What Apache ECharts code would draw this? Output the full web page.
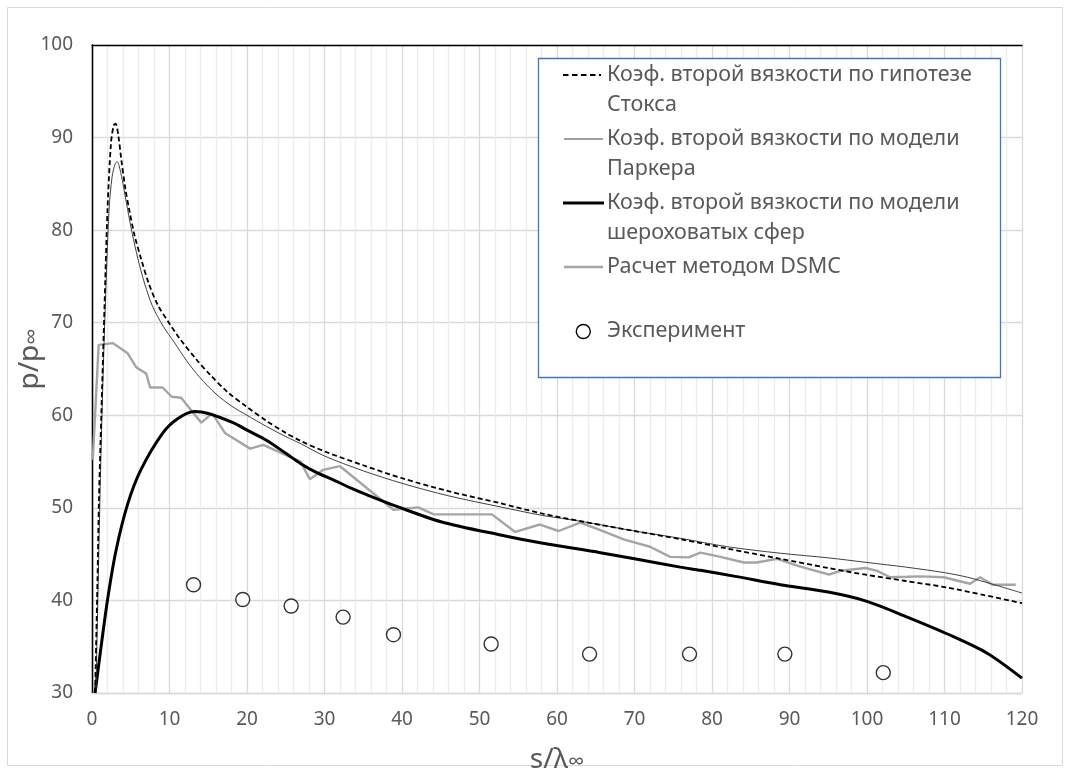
<!DOCTYPE html>
<html>
<head>
<meta charset="utf-8">
<script src="https://cdn.jsdelivr.net/npm/echarts@6/dist/echarts.min.js"></script>
<style>html,body{margin:0;padding:0;background:#fff}#c{width:1066px;height:773px}</style>
</head>
<body>
<div id="c"></div>
<script>
// ---- data (s/λ∞, p/p∞) ----
const seriesNames = [
  'Коэф. второй вязкости по гипотезе Стокса',
  'Коэф. второй вязкости по модели Паркера',
  'Коэф. второй вязкости по модели шероховатых сфер',
  'Расчет методом DSMC',
  'Эксперимент'
];
const xTicks = [0,10,20,30,40,50,60,70,80,90,100,110,120];
const yTicks = [30,40,50,60,70,80,90,100];

const stokesData = [[0.4,30],[0.7,42],[0.9,51],[1.2,60],[1.6,71.4],[2.0,82.2],[2.45,89.4],[2.8,91.3],[3.05,91.5],[3.4,90.2],[3.8,87.5],[4.3,84.5],[4.8,82.2],[5.5,79.4],[6.3,77.0],[7.3,74.3],[8.5,71.9],[10,69.9],[11.3,68.3],[13.5,66.0],[15.1,64.5],[17.5,62.5],[20,60.9],[22.5,59.4],[25,58.1],[27,57.2],[30,56.1],[35,54.6],[40,53.2],[46,51.8],[52.7,50.5],[58,49.4],[63.4,48.5],[70,47.5],[76,46.6],[82,45.6],[88.8,44.5],[95,43.5],[100,42.75],[105,42.1],[110.3,41.4],[115,40.6],[120,39.7]];

const parkerData = [[0.5,30],[0.8,42],[1.05,52],[1.35,62],[1.7,71.4],[2.2,82.2],[2.6,85.8],[3.0,87.2],[3.25,87.4],[3.6,86.6],[4.0,85.0],[4.6,82.2],[5.2,79.6],[5.9,77.0],[6.8,74.2],[7.8,71.8],[9.2,69.6],[10.6,67.9],[12.2,65.9],[13.9,64.1],[16,62.3],[18,61.0],[20,60.0],[22.5,58.8],[25,57.7],[27,56.9],[30,55.6],[35,54.0],[40,52.65],[46,51.3],[52.7,50.1],[58,49.2],[63.4,48.5],[70,47.5],[76,46.7],[82,45.8],[88.8,45.1],[95,44.6],[100,44.1],[105,43.6],[110,43.0],[113,42.5],[116,41.8],[120,40.8]];

const spheresData = [[0.4,30],[1.0,33.9],[2.0,40.05],[3.1,45.4],[4.6,50.4],[6.3,54.1],[9.1,58.05],[11,59.6],[13.2,60.4],[15,60.2],[18.2,59.2],[20,58.4],[22.5,57.3],[25,55.9],[26.9,54.8],[29,53.8],[31.2,53.0],[33.5,52.1],[35.5,51.4],[39.5,50.1],[45,48.5],[52.7,47.07],[58,46.2],[65.6,45.16],[70,44.5],[75.9,43.6],[78.5,43.25],[83,42.6],[88.8,41.7],[95,40.9],[100,39.9],[105.2,38.2],[110.3,36.4],[115.5,34.3],[120,31.6]];

const dsmcData = [[0.1,55.2],[0.86,67.6],[2.67,67.8],[4.6,66.7],[5.7,65.2],[7.0,64.5],[7.5,63.0],[9.1,63.0],[10.3,62.0],[11.5,61.9],[14.1,59.2],[15.5,60.2],[17.2,58.05],[20.4,56.4],[22.1,56.8],[26.9,55.0],[28.1,53.1],[29.8,54.1],[32.0,54.5],[38.9,49.8],[42.1,50.05],[44.1,49.3],[51.6,49.3],[54.6,47.4],[57.8,48.2],[60.2,47.5],[63.0,48.4],[65.6,47.6],[68.6,46.6],[72.0,45.8],[74.6,44.7],[77.0,44.65],[78.5,45.16],[81.1,44.7],[84.1,44.1],[85.8,44.1],[88.4,44.5],[91.4,43.65],[95.1,42.8],[96.6,43.2],[99.8,43.5],[101.3,43.2],[103.0,42.5],[105.2,42.55],[106.9,42.6],[109.9,42.5],[113.3,41.8],[114.6,42.5],[116.2,41.7],[119.2,41.7]];

const experimentData = [[13.1,41.7],[19.45,40.1],[25.7,39.4],[32.4,38.2],[38.9,36.3],[51.5,35.3],[64.2,34.2],[77.1,34.2],[89.4,34.2],[102.1,32.2]];

// ---- chart ----
const FONT = '"Noto Sans", "Open Sans", sans-serif';
const TXT = '#595959';
const chart = echarts.init(document.getElementById('c'), null, {renderer: 'canvas'});

const legendLines = [
  ['Коэф. второй вязкости по гипотезе', 75],
  ['Стокса', 105],
  ['Коэф. второй вязкости по модели', 139],
  ['Паркера', 169],
  ['Коэф. второй вязкости по модели', 203],
  ['шероховатых сфер', 233],
  ['Расчет методом DSMC', 267],
  ['Эксперимент', 331]
];

const graphics = [
  {type:'rect', shape:{x:7.5,y:7.5,width:1055,height:758}, style:{fill:'none', stroke:'#D9D9D9', lineWidth:1}, z:0, silent:true},
  {type:'rect', shape:{x:538.5,y:58.5,width:462,height:319}, style:{fill:'#fff', stroke:'#4472C4', lineWidth:1.3}, z:50},
  {type:'line', shape:{x1:563,y1:75,x2:601,y2:75}, style:{stroke:'#000', lineWidth:1.8, lineDash:[5.5,3.5]}, z:51},
  {type:'line', shape:{x1:564,y1:139,x2:603,y2:139}, style:{stroke:'#404040', lineWidth:1}, z:51},
  {type:'line', shape:{x1:563,y1:203,x2:604,y2:203}, style:{stroke:'#000', lineWidth:3}, z:51},
  {type:'line', shape:{x1:564,y1:267,x2:603,y2:267}, style:{stroke:'#A5A5A5', lineWidth:2.4}, z:51},
  {type:'circle', shape:{cx:583.3,cy:331.5,r:7}, style:{fill:'#fff', stroke:'#000', lineWidth:1.4}, z:51}
];
legendLines.forEach(function(l){
  graphics.push({type:'text', x:607, y:l[1], style:{text:l[0], fill:TXT, font:'21.5px ' + FONT, textVerticalAlign:'middle', textAlign:'left'}, z:52});
});

const nameRich = {sub:{fontSize:23, color:TXT, fontFamily:FONT, verticalAlign:'bottom', lineHeight:13}};

chart.setOption({
  backgroundColor:'#fff',
  animation:false,
  grid:{left:92, top:45, right:44, bottom:80, show:false, containLabel:false, outerBoundsMode:'none'},
  xAxis:[{
    type:'value', min:0, max:120, interval:10,
    name:'s/λ{sub|∞}', nameLocation:'middle', nameGap:53,
    nameTextStyle:{color:TXT, fontSize:28, fontFamily:FONT, rich:nameRich},
    axisLine:{show:true, lineStyle:{color:'#D9D9D9', width:1.3}},
    axisTick:{show:false},
    axisLabel:{color:TXT, fontSize:19, fontFamily:FONT, margin:17,
      formatter:function(v){return xTicks.indexOf(v) >= 0 ? String(v) : '';}},
    splitLine:{show:true, lineStyle:{color:'#D9D9D9', width:1.3}},
    minorTick:{show:false, splitNumber:5},
    minorSplitLine:{show:true, lineStyle:{color:'#ECECEC', width:1.3}}
  },{
    type:'value', min:0, max:120, position:'top',
    axisLine:{show:true, lineStyle:{color:'#000', width:1.3}},
    axisTick:{show:false}, axisLabel:{show:false}, splitLine:{show:false}
  }],
  yAxis:[{
    type:'value', min:30, max:100, interval:10,
    name:'p/p{sub|∞}', nameLocation:'middle', nameGap:48, nameMoveOverlap:false,
    nameTextStyle:{color:TXT, fontSize:28, fontFamily:FONT, rich:nameRich, padding:[0,0,0,20]},
    axisLine:{show:true, lineStyle:{color:'#000', width:1.3}},
    axisTick:{show:false},
    axisLabel:{color:TXT, fontSize:19, fontFamily:FONT, margin:19,
      formatter:function(v){return yTicks.indexOf(v) >= 0 ? String(v) : '';}},
    splitLine:{show:true, lineStyle:{color:'#D9D9D9', width:1.3}}
  },{
    type:'value', min:30, max:100, position:'right',
    axisLine:{show:true, lineStyle:{color:'#000', width:1.3}},
    axisTick:{show:false}, axisLabel:{show:false}, splitLine:{show:false}
  }],
  series:[
    {name:seriesNames[3], type:'line', data:dsmcData, showSymbol:false, symbol:'none',
      lineStyle:{color:'#A5A5A5', width:2.4}, z:2},
    {name:seriesNames[2], type:'line', data:spheresData, smooth:0.3, showSymbol:false, symbol:'none',
      lineStyle:{color:'#000', width:3}, z:3},
    {name:seriesNames[1], type:'line', data:parkerData, smooth:0.3, showSymbol:false, symbol:'none',
      lineStyle:{color:'#404040', width:1}, z:4},
    {name:seriesNames[0], type:'line', data:stokesData, smooth:0.3, showSymbol:false, symbol:'none',
      lineStyle:{color:'#000', width:1.8, type:[5,3]}, z:5},
    {name:seriesNames[4], type:'scatter', data:experimentData, symbol:'circle', symbolSize:14,
      itemStyle:{color:'#fff', borderColor:'#000', borderWidth:1.4}, z:6}
  ],
  graphic:graphics
});
</script>
</body>
</html>
